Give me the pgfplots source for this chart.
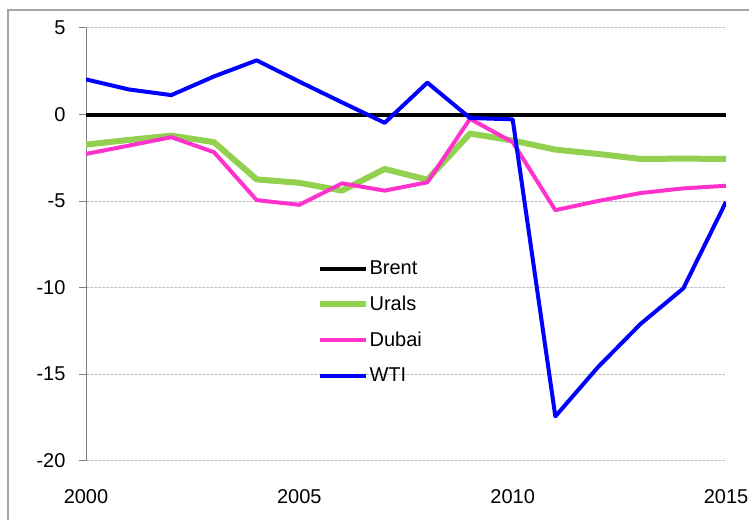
\documentclass[border=0pt]{standalone}
\usepackage{fontspec}
\setmainfont{Liberation Sans}
\usepackage{pgfplots}
\pgfplotsset{compat=1.18}
\definecolor{urals}{HTML}{92D050}
\definecolor{dubai}{HTML}{FF33CC}
\definecolor{wti}{HTML}{0000FF}
\definecolor{framec}{HTML}{A6A6A6}
\definecolor{gridc}{HTML}{BFBFBF}
\definecolor{axc}{HTML}{808080}

\begin{document}
\begin{tikzpicture}[font=\fontsize{20}{24}\selectfont]
\path[use as bounding box] (0,0) rectangle (749pt,520pt);
\draw[framec, line width=1.5pt] (8pt,0pt) -- (8pt,510pt) -- (749pt,510pt);
\begin{axis}[
  at={(86pt,59.5pt)}, anchor=south west,
  scale only axis, width=640pt, height=432.5pt,
  xmin=2000, xmax=2015, ymin=-20, ymax=5,
  xtick={2000,2005,2010,2015}, ytick={-20,-15,...,5},
  /pgf/number format/assume math mode=true,
  /pgf/number format/1000 sep={},
  axis x line*=bottom, x axis line style={draw=none},
  axis y line*=left, y axis line style={-, axc, line width=1pt},
  x tick style={draw=none},
  y tick style={axc, line width=1pt},
  tick align=outside, major tick length=7pt,
  xticklabel style={yshift=-18pt},
  yticklabel style={xshift=-10pt},
  ymajorgrids, grid style={gridc, line width=1pt, dash pattern=on 2.5pt off 1.5pt},
  legend style={draw=none, fill=none, at={(0.36,0.462)}, anchor=north west,
    inner sep=0pt, row sep=20pt, nodes={inner xsep=1pt, inner ysep=0pt}},
  legend cell align=left,
  legend image code/.code={\draw[#1] (0pt,0pt) -- (46pt,0pt);},
  every axis plot/.append style={line join=round},
]
\addplot[black, line width=4pt] coordinates {(2000,0) (2001,0) (2002,0) (2003,0) (2004,0) (2005,0) (2006,0) (2007,0) (2008,0) (2009,0) (2010,0) (2011,0) (2012,0) (2013,0) (2014,0) (2015,0)};
\addplot[urals, line width=6pt] coordinates {(2000,-1.74) (2001,-1.47) (2002,-1.22) (2003,-1.6) (2004,-3.75) (2005,-3.95) (2006,-4.4) (2007,-3.15) (2008,-3.77) (2009,-1.1) (2010,-1.5) (2011,-2.03) (2012,-2.28) (2013,-2.57) (2014,-2.55) (2015,-2.57)};
\addplot[dubai, line width=4pt] coordinates {(2000,-2.28) (2001,-1.8) (2002,-1.31) (2003,-2.18) (2004,-4.95) (2005,-5.22) (2006,-3.98) (2007,-4.4) (2008,-3.92) (2009,-0.25) (2010,-1.6) (2011,-5.53) (2012,-5.0) (2013,-4.54) (2014,-4.27) (2015,-4.12)};
\addplot[wti, line width=4pt] coordinates {(2000,2.03) (2001,1.45) (2002,1.12) (2003,2.2) (2004,3.13) (2005,1.9) (2006,0.7) (2007,-0.48) (2008,1.84) (2009,-0.2) (2010,-0.28) (2011,-17.45) (2012,-14.6) (2013,-12.1) (2014,-10.05) (2015,-5.05)};
\legend{Brent, Urals, Dubai, WTI}
\end{axis}
\end{tikzpicture}
\end{document}
